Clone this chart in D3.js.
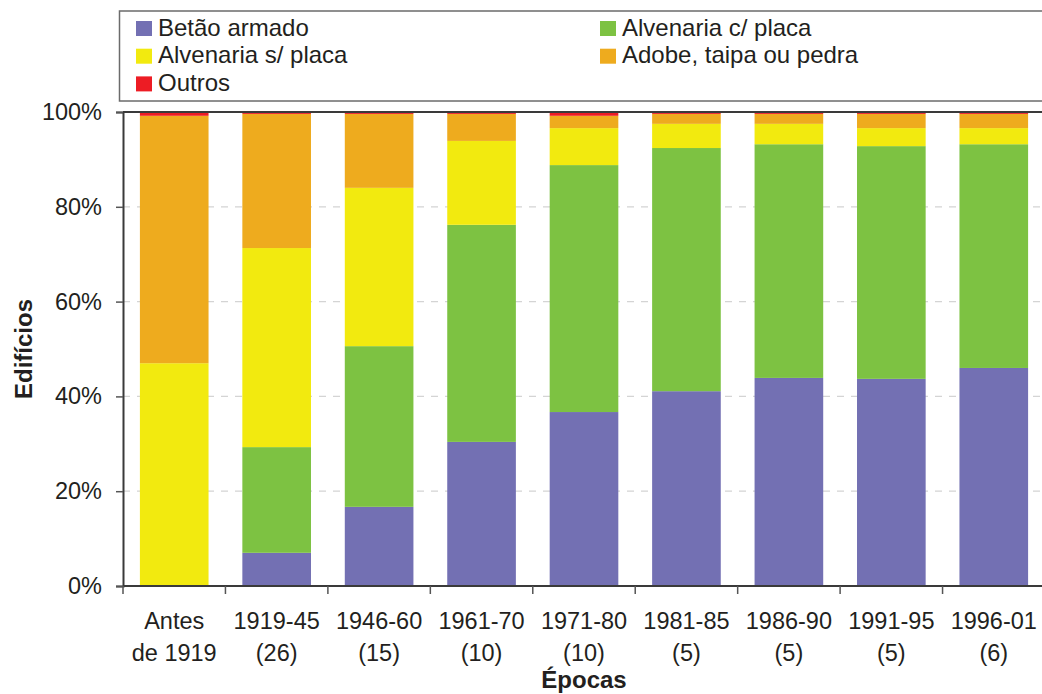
<!DOCTYPE html>
<html>
<head>
<meta charset="utf-8">
<script src="https://cdn.jsdelivr.net/npm/d3@7"></script>
<style>
  html, body { margin: 0; padding: 0; background: #fff; }
  svg { display: block; font-family: "Liberation Sans", Arial, sans-serif; }
</style>
</head>
<body>
<svg id="chart" width="1042" height="694"></svg>
<script>
// Construction period of buildings (percent of buildings per structure type)
const epocas = ["Antes|de 1919", "1919-45|(26)", "1946-60|(15)", "1961-70|(10)", "1971-80|(10)",
                "1981-85|(5)", "1986-90|(5)", "1991-95|(5)", "1996-01|(6)"];

const seriesNames = ["Betão armado", "Alvenaria c/ placa", "Alvenaria s/ placa", "Adobe, taipa ou pedra", "Outros"];
const seriesColors = ["#7370b3", "#7dc242", "#f2ea0f", "#eeab1e", "#ed1c24"];

const betaoArmado     = [0.0, 7.0, 16.7, 30.4, 36.7, 41.1, 43.9, 43.7, 46.0];
const alvenariaCPlaca = [0.0, 22.3, 33.9, 45.8, 52.1, 51.3, 49.3, 49.1, 47.2];
const alvenariaSPlaca = [47.0, 42.0, 33.4, 17.7, 7.8, 5.1, 4.3, 3.8, 3.4];
const adobeTaipa      = [52.2, 28.3, 15.6, 5.7, 2.6, 2.1, 2.1, 3.0, 3.0];
const outros          = [0.8, 0.4, 0.4, 0.4, 0.8, 0.4, 0.4, 0.4, 0.4];

const yTicks = [0, 20, 40, 60, 80, 100];

const seriesValues = [betaoArmado, alvenariaCPlaca, alvenariaSPlaca, adobeTaipa, outros];
const rows = epocas.map((e, i) => {
  const r = { epoca: e };
  seriesNames.forEach((s, k) => { r[s] = seriesValues[k][i]; });
  return r;
});

const svg = d3.select("#chart");
const plot = { left: 123, right: 1045, top: 112, bottom: 586 };
const textColor = "#231f20";
const fontSize = 23.5;

const x = d3.scaleBand().domain(epocas).range([plot.left, plot.right]).paddingInner(0.33).paddingOuter(0.165);
const y = d3.scaleLinear().domain([0, 100]).range([plot.bottom, plot.top]);

// dashed gridlines
svg.append("g").selectAll("line")
  .data(yTicks.filter(t => t > 0 && t < 100))
  .join("line")
  .attr("x1", plot.left).attr("x2", plot.right)
  .attr("y1", d => y(d)).attr("y2", d => y(d))
  .attr("stroke", "#d4d4d4").attr("stroke-width", 1.3)
  .attr("stroke-dasharray", "7,7");

// stacked bars
const stack = d3.stack().keys(seriesNames)(rows);
svg.append("g").selectAll("g")
  .data(stack)
  .join("g")
  .attr("fill", (d, i) => seriesColors[i])
  .selectAll("rect")
  .data(d => d)
  .join("rect")
  .attr("x", d => x(d.data.epoca))
  .attr("width", x.bandwidth())
  .attr("y", d => y(d[1]))
  .attr("height", d => y(d[0]) - y(d[1]));

// plot frame: top line
svg.append("line").attr("x1", plot.left).attr("x2", plot.right).attr("y1", plot.top).attr("y2", plot.top)
  .attr("stroke", "#3a3a3a").attr("stroke-width", 2);

// y axis
const yAxis = d3.axisLeft(y).tickValues(yTicks).tickFormat(d => d + "%").tickSize(7).tickPadding(14);
const gy = svg.append("g").attr("transform", `translate(${plot.left},0)`).call(yAxis);
gy.select(".domain").attr("stroke", "#3a3a3a").attr("stroke-width", 2);
gy.selectAll(".tick line").attr("stroke", "#555").attr("stroke-width", 1.5);
gy.selectAll(".tick text").attr("font-size", fontSize).attr("fill", textColor)
  .attr("font-family", "Liberation Sans, Arial, sans-serif");

// x axis with ticks between categories
const gx = svg.append("g").attr("transform", `translate(0,${plot.bottom})`);
gx.append("line").attr("x1", plot.left).attr("x2", plot.right).attr("y1", 0).attr("y2", 0)
  .attr("stroke", "#3a3a3a").attr("stroke-width", 2);
const step = x.step();
const boundaries = d3.range(epocas.length + 1).map(i => plot.left + i * step);
gx.selectAll(".tk").data(boundaries).join("line")
  .attr("x1", d => d).attr("x2", d => d).attr("y1", 0).attr("y2", 8)
  .attr("stroke", "#555").attr("stroke-width", 1.5);
const labels = gx.selectAll(".lbl").data(epocas).join("text")
  .attr("x", d => x(d) + x.bandwidth() / 2)
  .attr("text-anchor", "middle").attr("font-size", fontSize).attr("fill", textColor);
labels.each(function(d) {
  const parts = d.split("|");
  d3.select(this).selectAll("tspan").data(parts).join("tspan")
    .attr("x", x(d) + x.bandwidth() / 2)
    .attr("y", (p, i) => 43 + i * 32)
    .text(p => p);
});

// axis titles
svg.append("text").attr("x", (plot.left + plot.right) / 2).attr("y", 688)
  .attr("text-anchor", "middle").attr("font-size", 24).attr("font-weight", "bold")
  .attr("fill", textColor).text("Épocas");
svg.append("text").attr("transform", `translate(32,${(plot.top + plot.bottom) / 2}) rotate(-90)`)
  .attr("text-anchor", "middle").attr("font-size", 24).attr("font-weight", "bold")
  .attr("fill", textColor).text("Edifícios");

// legend
const legend = svg.append("g");
legend.append("rect").attr("x", 119.5).attr("y", 11).attr("width", 1000).attr("height", 90)
  .attr("fill", "#fff").attr("stroke", "#6b6b6b").attr("stroke-width", 1.5);
const legendPos = [[136, 0], [600, 0], [136, 1], [600, 1], [136, 2]];
const li = legend.selectAll(".li").data(seriesNames).join("g")
  .attr("transform", (d, i) => `translate(${legendPos[i][0]},${21 + legendPos[i][1] * 27.7})`);
li.append("rect").attr("width", 16).attr("height", 15).attr("fill", (d, i) => seriesColors[i]);
li.append("text").attr("x", 22).attr("y", 14.5).attr("font-size", 24).attr("fill", textColor).text(d => d);
</script>
</body>
</html>
